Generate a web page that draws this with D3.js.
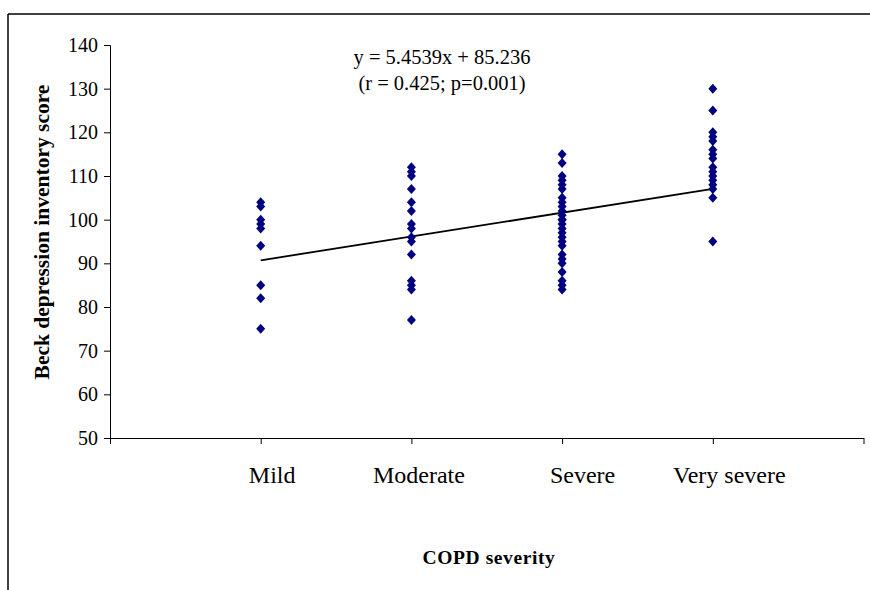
<!DOCTYPE html>
<html>
<head>
<meta charset="utf-8">
<script src="https://cdn.jsdelivr.net/npm/d3@7"></script>
<style>
  body { margin: 0; background: #fff; }
  text { font-family: "Liberation Serif", "Times New Roman", serif; fill: #000; }
</style>
</head>
<body>
<div id="chartdiv"></div>
<script>
var categories = ["Mild", "Moderate", "Severe", "Very severe"];
var mildScores = [104, 103, 100, 99, 98, 94, 85, 82, 75];
var moderateScores = [112, 111, 110, 107, 104, 102, 99, 98, 96, 95, 92, 86, 85, 84, 77];
var severeScores = [115, 113, 110, 109, 108, 107, 105, 104, 103, 102, 101, 100, 100, 99, 98, 97, 96, 95, 94, 92, 91, 90, 88, 86, 85, 84];
var verySevereScores = [130, 125, 120, 119, 118, 116, 115, 114, 112, 111, 110, 109, 108, 107, 105, 95];
var yTicks = [50, 60, 70, 80, 90, 100, 110, 120, 130, 140];
var slope = 5.4539, intercept = 85.236;

var series = [mildScores, moderateScores, severeScores, verySevereScores];

var margin = {top: 45, right: 6, bottom: 151, left: 110},
    width = 870 - margin.left - margin.right,
    height = 590 - margin.top - margin.bottom;

var svg = d3.select("#chartdiv").append("svg")
    .attr("width", 870)
    .attr("height", 590);

// outer frame (top and left edges visible)
svg.append("line").attr("x1", 8).attr("x2", 870).attr("y1", 14).attr("y2", 14)
    .attr("stroke", "#000").attr("stroke-width", 1.5);
svg.append("line").attr("x1", 8).attr("x2", 8).attr("y1", 14).attr("y2", 590)
    .attr("stroke", "#000").attr("stroke-width", 1.5);

var g = svg.append("g")
    .attr("transform", "translate(" + margin.left + "," + margin.top + ")");

var x = d3.scaleLinear().domain([0, 5]).range([0, width - 0.5]);
var y = d3.scaleLinear().domain([50, 140]).range([height - 1, 0]);

var yAxis = d3.axisLeft(y).tickValues(yTicks).tickSize(6).tickPadding(6);
var gy = g.append("g").call(yAxis);
gy.select(".domain").attr("stroke", "#000");
gy.selectAll(".tick line").attr("stroke", "#000");
gy.selectAll("text").style("font-size", "20px").style("font-family", "Liberation Serif");

var xAxis = d3.axisBottom(x).tickValues([0, 1, 2, 3, 4, 5])
    .tickSize(6).tickSizeOuter(0)
    .tickFormat(function (d) { return (d >= 1 && d <= 4) ? categories[d - 1] : ""; })
    .tickPadding(22);
var gx = g.append("g").attr("transform", "translate(0," + (height - 1) + ")").call(xAxis);
gx.select(".domain").attr("stroke", "#000");
gx.selectAll(".tick line").attr("stroke", "#000");
// the labels in the original sit a little right of their ticks
var labelShift = [0, 11, 7, 20, 16, 0];
gx.selectAll("text")
    .style("font-size", "24px")
    .style("font-family", "Liberation Serif")
    .attr("dx", function (d) { return labelShift[d]; });

// regression line
g.append("line")
    .attr("x1", x(1)).attr("y1", y(slope * 1 + intercept))
    .attr("x2", x(4)).attr("y2", y(slope * 4 + intercept))
    .attr("stroke", "#000").attr("stroke-width", 1.8);

// diamond markers
var diamond = "M0,-5L4.5,0L0,5L-4.5,0Z";
series.forEach(function (vals, i) {
    g.selectAll(".pt" + i)
        .data(vals)
        .enter().append("path")
        .attr("class", "pt" + i)
        .attr("d", diamond)
        .attr("transform", function (d) {
            return "translate(" + x(i + 1) + "," + y(d) + ")";
        })
        .attr("fill", "#000080");
});

// equation annotation
svg.append("text")
    .attr("x", 442).attr("y", 64)
    .attr("text-anchor", "middle")
    .style("font-size", "20.5px")
    .text("y = 5.4539x + 85.236");
svg.append("text")
    .attr("x", 442).attr("y", 90)
    .attr("text-anchor", "middle")
    .style("font-size", "20.5px")
    .text("(r = 0.425; p=0.001)");

// axis titles
svg.append("text")
    .attr("x", 489).attr("y", 564)
    .attr("text-anchor", "middle")
    .style("font-size", "19.5px")
    .style("font-weight", "bold")
    .style("letter-spacing", "0.6px")
    .text("COPD severity");

svg.append("text")
    .attr("transform", "translate(49,232) rotate(-90)")
    .attr("text-anchor", "middle")
    .style("font-size", "21.5px")
    .style("font-weight", "bold")
    .text("Beck depression inventory score");
</script>
</body>
</html>
